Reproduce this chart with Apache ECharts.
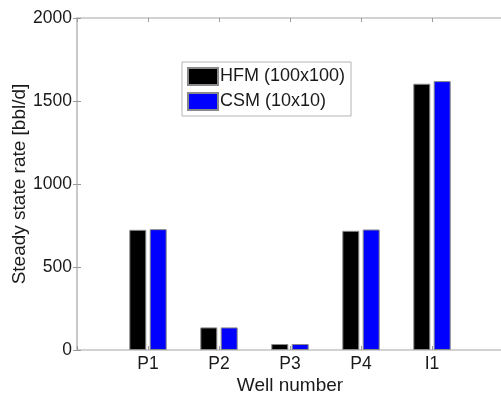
<!DOCTYPE html>
<html>
<head>
<meta charset="utf-8">
<script src="https://cdn.jsdelivr.net/npm/echarts@6/dist/echarts.min.js"></script>
<style>
  html, body { margin: 0; padding: 0; background: #fff; }
  #chart { width: 501px; height: 395px; }
</style>
</head>
<body>
<div id="chart"></div>
<script>
// Wells and their steady-state rates [bbl/d]
const wells = ['P1', 'P2', 'P3', 'P4', 'I1'];
const hfmRates = [724, 136, 36, 718, 1604];   // HFM (100x100)
const csmRates = [728, 136, 36, 726, 1620];   // CSM (10x10)
const yTicks = [0, 500, 1000, 1500, 2000];

const FONT = 'Liberation Sans';
const axisGrey = '#c4c4c4';
const textCol = '#1a1a1a';

// wells sit at positions 1..N on a 0..N+1 axis
const toPoints = arr => arr.map((v, i) => [i + 1, v]);

const chart = echarts.init(document.getElementById('chart'), null, { renderer: 'canvas' });

const xCommon = {
  type: 'value', min: 0, max: wells.length + 1, interval: 1,
  splitLine: { show: false },
  axisLine: { show: true, onZero: false, lineStyle: { color: axisGrey, width: 1.5 } },
  axisTick: { show: true, inside: true, length: 4, lineStyle: { color: '#9a9a9a' } }
};
const yCommon = {
  type: 'value', min: yTicks[0], max: yTicks[yTicks.length - 1], interval: 500,
  splitLine: { show: false },
  axisLine: { show: true, lineStyle: { color: axisGrey, width: 1.5 } },
  axisTick: { show: true, inside: true, length: 4, lineStyle: { color: '#9a9a9a' } }
};

chart.setOption({
  animation: false,
  backgroundColor: '#fff',
  textStyle: { fontFamily: FONT },
  grid: { left: 77, top: 18, right: -2, bottom: 45, containLabel: false, outerBoundsMode: 'none' },
  legend: {
    orient: 'vertical',
    left: 182, top: 62,
    itemWidth: 30, itemHeight: 17, itemGap: 6,
    padding: [5, 6, 5, 5],
    backgroundColor: '#fff',
    borderColor: '#b5b5b5', borderWidth: 1, borderRadius: 0,
    icon: 'rect',
    textStyle: { fontFamily: FONT, fontSize: 18, color: textCol, padding: [0, 0, 0, -3] },
    data: ['HFM (100x100)', 'CSM (10x10)']
  },
  xAxis: [
    Object.assign({}, xCommon, {
      position: 'bottom',
      name: 'Well number', nameLocation: 'middle', nameGap: 26, nameMoveOverlap: false,
      nameTextStyle: { fontFamily: FONT, fontSize: 19, color: textCol },
      axisLabel: {
        fontFamily: FONT, fontSize: 17.5, color: textCol, margin: 5,
        formatter: v => wells[v - 1] || ''
      }
    }),
    Object.assign({}, xCommon, { position: 'top', axisLabel: { show: false } })
  ],
  yAxis: [
    Object.assign({}, yCommon, {
      position: 'left',
      name: 'Steady state rate [bbl/d]', nameLocation: 'middle', nameGap: 48, nameMoveOverlap: false,
      nameTextStyle: { fontFamily: FONT, fontSize: 19, color: textCol },
      axisLabel: { fontFamily: FONT, fontSize: 17.5, color: textCol, margin: 5, formatter: v => String(v) }
    }),
    Object.assign({}, yCommon, { position: 'right', axisLabel: { show: false } })
  ],
  series: [
    {
      name: 'HFM (100x100)', type: 'bar', xAxisIndex: 0, yAxisIndex: 0,
      barWidth: 17, barGap: '20%',
      itemStyle: { color: '#000000', borderColor: '#8a8a8a', borderWidth: 1 },
      data: toPoints(hfmRates)
    },
    {
      name: 'CSM (10x10)', type: 'bar', xAxisIndex: 0, yAxisIndex: 0,
      barWidth: 17, barGap: '20%',
      itemStyle: { color: '#0000ff', borderColor: '#8a8a8a', borderWidth: 1 },
      data: toPoints(csmRates)
    }
  ]
});
</script>
</body>
</html>
